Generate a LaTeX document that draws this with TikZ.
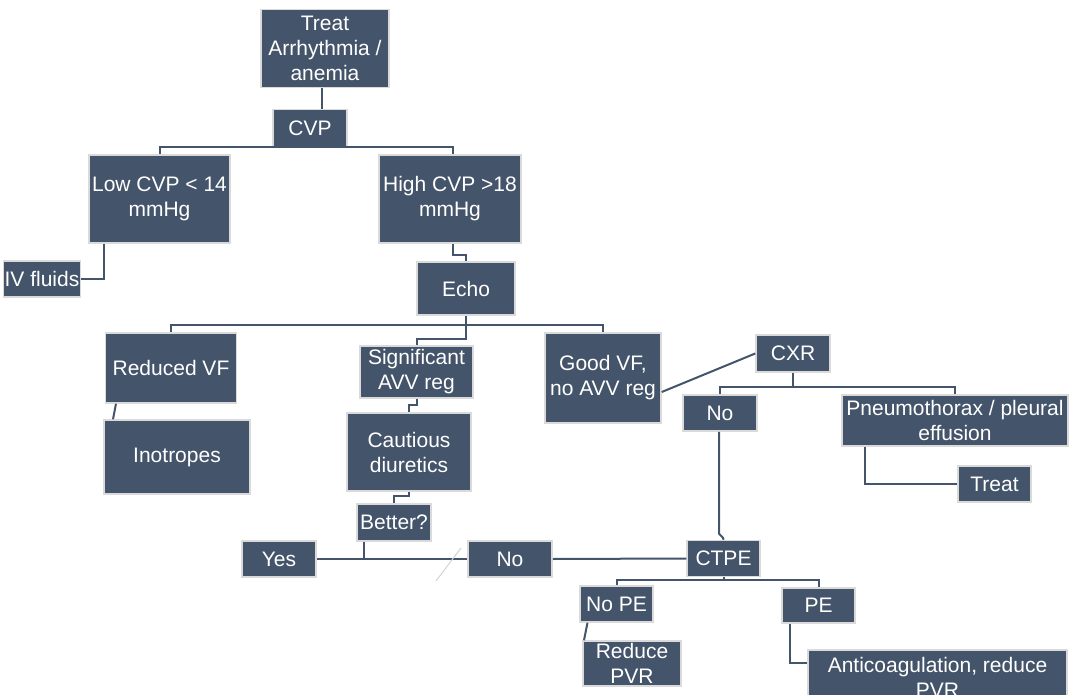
\documentclass[tikz,border=0pt]{standalone}
\usepackage{fontspec}
\setmainfont{Liberation Sans}
\definecolor{slate}{HTML}{44546A}
\definecolor{rim}{HTML}{DADADA}
\definecolor{faint}{HTML}{D3D3D3}

\begin{document}
\begin{tikzpicture}[x=1pt,y=-1pt]
    \tikzstyle{blk}=[rectangle, draw=rim, line width=1.5pt, fill=slate, text=white, align=center, inner sep=1pt, font=\fontsize{21}{25}\selectfont]
    \tikzstyle{link}=[draw=slate, line width=2pt]

    \useasboundingbox (0,0) rectangle (1071,695);

    \node[blk, minimum width=128, minimum height=78] (treatA) at (325,48.5) {Treat\\Arrhythmia /\\anemia};
    \node[blk, minimum width=74, minimum height=37] (cvp) at (310,128) {CVP};
    \node[blk, minimum width=141, minimum height=88] (low) at (159.5,199) {Low CVP < 14\\mmHg};
    \node[blk, minimum width=142, minimum height=88] (high) at (450,199) {High CVP >18\\mmHg};
    \node[blk, minimum width=74, minimum height=36] (iv) at (42,279) {IV fluids};
    \node[blk, minimum width=98, minimum height=53] (echo) at (466,288.5) {Echo};
    \node[blk, minimum width=131, minimum height=70] (redvf) at (171,368) {Reduced VF};
    \node[blk, minimum width=146, minimum height=74] (ino) at (177,457) {Inotropes};
    \node[blk, minimum width=113, minimum height=52] (sig) at (416.5,372) {Significant\\AVV reg};
    \node[blk, minimum width=124, minimum height=78] (caut) at (409,452) {Cautious\\diuretics};
    \node[blk, minimum width=74, minimum height=37] (better) at (394,522.5) {Better?};
    \node[blk, minimum width=74, minimum height=36] (yes) at (279,559) {Yes};
    \node[blk, minimum width=84, minimum height=36] (nomid) at (510,559) {No};
    \node[blk, minimum width=116, minimum height=90] (goodvf) at (603,378) {Good VF,\\no AVV reg};
    \node[blk, minimum width=74, minimum height=37] (cxr) at (793,353.5) {CXR};
    \node[blk, minimum width=74, minimum height=36] (nocxr) at (720,413) {No};
    \node[blk, minimum width=226, minimum height=51] (pneu) at (955,420.5) {Pneumothorax / pleural\\effusion};
    \node[blk, minimum width=73, minimum height=36] (treatB) at (994.5,484) {Treat};
    \node[blk, minimum width=73, minimum height=36] (ctpe) at (723.5,558.5) {CTPE};
    \node[blk, minimum width=73, minimum height=36] (nope) at (616.5,604) {No PE};
    \node[blk, minimum width=73, minimum height=35] (pe) at (818.5,605.5) {PE};
    \node[blk, minimum width=98, minimum height=45] (reduce) at (632,663.5) {Reduce\\PVR};
    \node[blk, minimum width=259, minimum height=54] (anti) at (937.5,677) {Anticoagulation, reduce\\PVR};

    % tree links
    \draw[link] ([xshift=-3pt]treatA.south) -- ([xshift=12pt]cvp.north);
    \draw[link] (cvp.south) -| (low.north);
    \draw[link] (cvp.south) -| ([xshift=3pt]high.north);
    \draw[link] ([xshift=-56pt]low.south) |- (iv.east);
    \draw[link] ([xshift=3pt]high.south) -- ++(0,11) -| (echo.north);
    \draw[link] (echo.south) -- ++(0,9) coordinate (ebar);
    \draw[link] (ebar) -| (redvf.north);
    \draw[link] (ebar) -| (goodvf.north);
    \draw[link] (ebar) -- ++(0,14) -| (sig.north);
    \draw[link] ([xshift=-55pt]redvf.south) -- ([xshift=-64pt]ino.north);
    \draw[link] (sig.south) -- ++(0,6) -| (caut.north);
    \draw[link] (caut.south) -- ++(0,4) -| (better.north);
    \draw[link] ([xshift=-30pt]better.south) |- (yes.east);
    \draw[link] (yes.east) -- (nomid.west);
    \draw[link] (nomid.east) -- (ctpe.west);
    \draw[link] ([yshift=-14pt]goodvf.east) -- (cxr.west);
    \draw[link] (cxr.south) -- ++(0,14) coordinate (cbar);
    \draw[link] (cbar) -| (nocxr.north);
    \draw[link] (cbar) -| (pneu.north);
    \draw[link] ([xshift=-90pt]pneu.south) |- (treatB.west);
    \draw[link] ([xshift=-1pt]nocxr.south) -- ++(0,102) -- ++(4,4) -- (ctpe.north);
    \draw[link] (ctpe.south) -- ++(0,3) coordinate (tbar);
    \draw[link] (tbar) -| (nope.north);
    \draw[link] (tbar) -| (pe.north);
    \draw[link] ([xshift=-29pt]nope.south) -- ([xshift=-48pt]reduce.north);
    \draw[link] ([xshift=-29pt]pe.south) |- ([yshift=14pt]anti.west);

    % stray mark
    \draw[faint, line width=1pt] (436,581) -- (461,548);
\end{tikzpicture}
\end{document}
